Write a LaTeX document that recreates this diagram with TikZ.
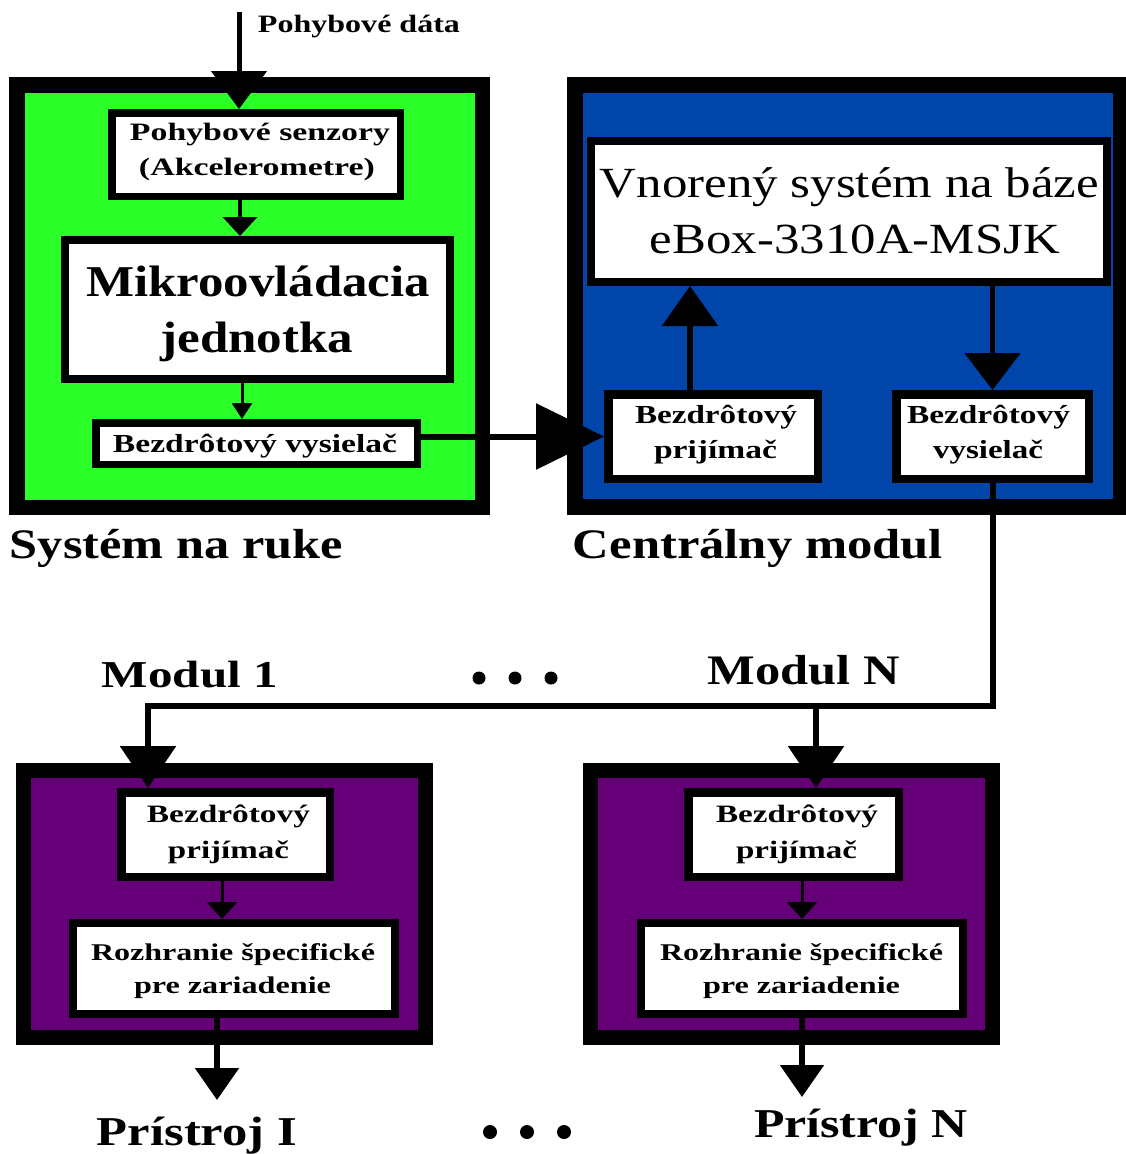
\documentclass[tikz,border=0pt]{standalone}
\usepackage{fontspec}
\setmainfont{Liberation Serif}
\usetikzlibrary{arrows.meta}
\definecolor{hgreen}{RGB}{42,255,42}
\definecolor{cblue}{RGB}{0,70,170}
\definecolor{mpurple}{RGB}{102,0,120}
\tikzset{
  boxfr/.style={draw=black, rectangle, inner sep=0pt},
  conn/.style n args={3}{draw=black, line width=#1, -{Triangle[width=#2,length=#3]}},
}
\newcommand{\lbl}[6]{\node[anchor=base, inner sep=0pt, outer sep=0pt] (#1) at (#2) {\fontsize{#3}{#3}\selectfont#4\resizebox{#5pt}{\height}{#6}};}
\begin{document}
\begin{tikzpicture}[x=1pt,y=-1pt]
\path[use as bounding box, fill=white] (0,0) rectangle (1125,1154);

% module frames
\node[boxfr, line width=15.5pt, fill=hgreen, minimum width=465.5pt, minimum height=422.5pt] (hand) at (249.5,296) {};
\node[boxfr, line width=16pt, fill=cblue, minimum width=546pt, minimum height=422pt] (central) at (848,296) {};
\node[boxfr, line width=15pt, fill=mpurple, minimum width=402pt, minimum height=267pt] (mod1) at (224.5,904) {};
\node[boxfr, line width=15pt, fill=mpurple, minimum width=402pt, minimum height=267pt] (modN) at (791.5,904) {};

% inner boxes
\node[boxfr, fill=white, line width=7.5pt, minimum width=288.5pt, minimum height=83.5pt] (sens) at (256,154.5) {};
\node[boxfr, fill=white, line width=8pt, minimum width=385pt, minimum height=139pt] (mikro) at (257.5,309.5) {};
\node[boxfr, fill=white, line width=7.5pt, minimum width=321.5pt, minimum height=41.5pt] (htx) at (256.5,443.5) {};
\node[boxfr, fill=white, line width=8pt, minimum width=516pt, minimum height=141pt] (ebox) at (849,211.5) {};
\node[boxfr, fill=white, line width=8.5pt, minimum width=209.5pt, minimum height=84.5pt] (crx) at (713,436.5) {};
\node[boxfr, fill=white, line width=8.5pt, minimum width=192.5pt, minimum height=84.5pt] (ctx) at (992.5,436.5) {};
\node[boxfr, fill=white, line width=8.5pt, minimum width=208.5pt, minimum height=84.5pt] (m1rx) at (225.5,834.5) {};
\node[boxfr, fill=white, line width=8pt, minimum width=322pt, minimum height=91pt] (m1if) at (234,968.5) {};
\node[boxfr, fill=white, line width=8.5pt, minimum width=210.5pt, minimum height=84.5pt] (mnrx) at (793.5,834.5) {};
\node[boxfr, fill=white, line width=8pt, minimum width=322pt, minimum height=91pt] (mnif) at (802,968.5) {};

% labels
\lbl{lPd}{359,32}{25}{\bfseries}{202}{Pohybové dáta}
\lbl{lPs}{260,140}{25}{\bfseries}{260}{Pohybové senzory}
\lbl{lAk}{257,175}{25}{\bfseries}{236}{(Akcelerometre)}
\lbl{lMi}{258,296}{44}{\bfseries}{344}{Mikroovládacia}
\lbl{lJe}{257,352}{44}{\bfseries}{193}{jednotka}
\lbl{lHt}{255,452}{26}{\bfseries}{284}{Bezdrôtový vysielač}
\lbl{lSr}{176.5,558}{42}{\bfseries}{333}{Systém na ruke}
\lbl{lCm}{758,558}{42}{\bfseries}{370}{Centrálny modul}
\lbl{lVn}{849.5,197}{43}{\mdseries}{499}{Vnorený systém na báze}
\lbl{lEb}{855,253}{43}{\mdseries}{410}{eBox-3310A-MSJK}
\lbl{lCra}{716,423}{26}{\bfseries}{162}{Bezdrôtový}
\lbl{lCrb}{715.5,458}{26}{\bfseries}{123}{prijímač}
\lbl{lCta}{988.5,423}{26}{\bfseries}{163}{Bezdrôtový}
\lbl{lCtb}{988,458}{26}{\bfseries}{110}{vysielač}
\lbl{lMa}{190,687}{38}{\bfseries}{176}{Modul 1}
\lbl{lMb}{804,684}{42}{\bfseries}{192}{Modul N}
\lbl{lRa}{228.5,822}{25}{\bfseries}{163}{Bezdrôtový}
\lbl{lRb}{228.5,858}{25}{\bfseries}{121}{prijímač}
\lbl{lIa}{233,960}{24}{\bfseries}{284}{Rozhranie špecifické}
\lbl{lIb}{232.5,993}{24}{\bfseries}{197}{pre zariadenie}
\lbl{lRc}{797,822}{25}{\bfseries}{162}{Bezdrôtový}
\lbl{lRd}{796.5,858}{25}{\bfseries}{121}{prijímač}
\lbl{lIc}{801.5,960}{24}{\bfseries}{283}{Rozhranie špecifické}
\lbl{lId}{801.5,993}{24}{\bfseries}{197}{pre zariadenie}
\lbl{lPa}{197,1145}{41}{\bfseries}{200}{Prístroj I}
\lbl{lPb}{861,1137}{41}{\bfseries}{214}{Prístroj N}

% ellipsis dots
\fill (479,678) circle[radius=6.5pt];
\fill (515,678) circle[radius=6.5pt];
\fill (551,678) circle[radius=6.5pt];
\fill (490,1132) circle[radius=7pt];
\fill (527,1132) circle[radius=7pt];
\fill (564,1132) circle[radius=7pt];

% helper coordinates
\coordinate (pin) at (239,12);
\coordinate (xa) at (240,0);
\coordinate (xb) at (242,0);
\coordinate (xc) at (690,0);
\coordinate (xd) at (222,0);
\coordinate (xe) at (802,0);
\coordinate (busL) at (148,706);
\coordinate (busN) at (816,706);
\coordinate (out1) at (217,1100);
\coordinate (outN) at (802,1097);

% connectors
\draw[conn={5pt}{55pt}{38pt}] (pin) -- (pin |- sens.north);
\draw[conn={4pt}{34pt}{19pt}] (sens.south -| xa) -- (mikro.north -| xa);
\draw[conn={3pt}{20pt}{16pt}] (mikro.south -| xb) -- (htx.north -| xb);
\draw[conn={6pt}{65pt}{68pt}] (crx.west -| htx.east) -- (crx.west);
\draw[conn={5.5pt}{55pt}{40pt}] (crx.north -| xc) -- (ebox.south -| xc);
\draw[conn={5.5pt}{55pt}{37pt}] (ebox.south -| ctx.north) -- (ctx.north);
\draw[conn={6pt}{55pt}{42pt}] (ctx.south) |- (busL) -- (busL |- m1rx.north);
\draw[conn={6pt}{55pt}{42pt}] (busN) -- (busN |- mnrx.north);
\draw[conn={3pt}{30pt}{17pt}] (m1rx.south -| xd) -- (m1if.north -| xd);
\draw[conn={3pt}{30pt}{17pt}] (mnrx.south -| xe) -- (mnif.north -| xe);
\draw[conn={5.5pt}{43pt}{32pt}] (m1if.south -| out1) -- (out1);
\draw[conn={5.5pt}{43pt}{32pt}] (mnif.south -| outN) -- (outN);
\end{tikzpicture}
\end{document}
